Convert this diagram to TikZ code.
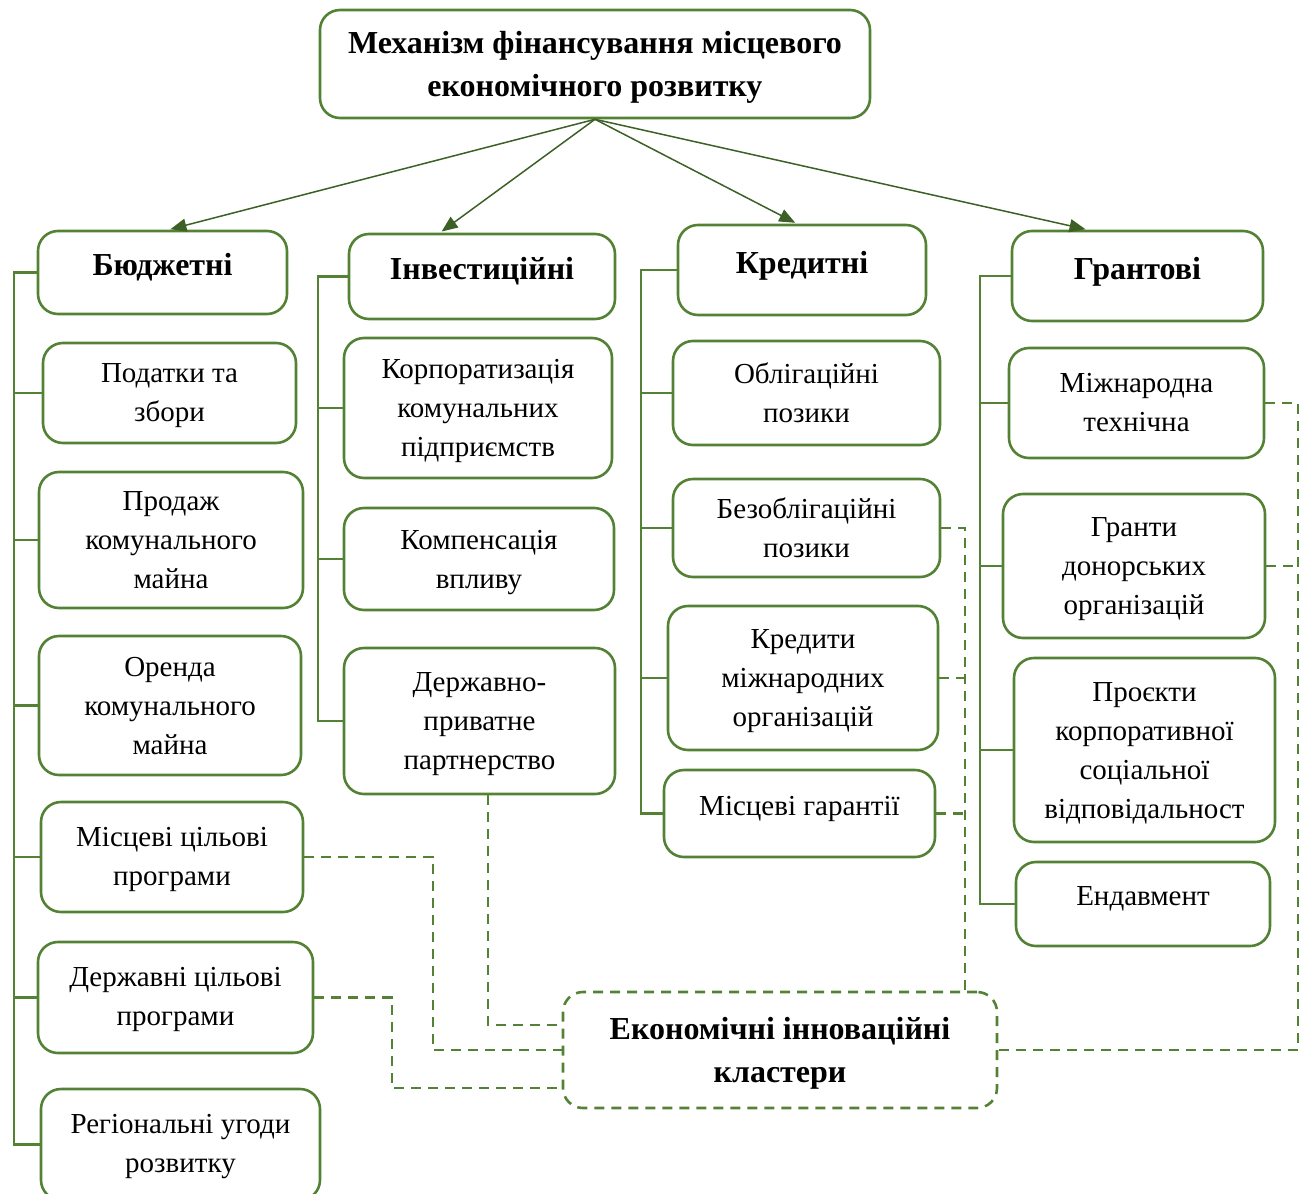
\documentclass[tikz,border=0pt]{standalone}
\usepackage{fontspec}
\setmainfont{Liberation Serif}
\usetikzlibrary{arrows.meta}
\definecolor{boxgreen}{RGB}{84,130,53}
\definecolor{arrgreen}{RGB}{60,96,38}

\begin{document}
\begin{tikzpicture}[x=1pt, y=-1pt,
        box/.style={draw=boxgreen, line width=2.6pt, rounded corners=20pt, align=center, inner sep=4pt, font=\fontsize{29}{39}\selectfont},
        multi/.style={box, text depth=#1},
        multi/.default=-8pt,
        single/.style={box, text depth=16pt},
        head/.style={single, font=\fontsize{32}{43}\selectfont\bfseries},
        title/.style={multi=#1, font=\fontsize{32}{43}\selectfont\bfseries},
        branch/.style={draw=boxgreen, line width=2.6pt},
        dlink/.style={draw=boxgreen, line width=2.6pt, dash pattern=on 10pt off 7pt},
        arr/.style={draw=arrgreen, line width=1.5pt, shorten >=2pt, -{Triangle[length=16pt, width=13pt]}}]
        \useasboundingbox (0,0) rectangle (1310,1194);

        \node[title=-7pt, minimum width=550pt, minimum height=108pt] (mech) at (595,64) {Механізм фінансування місцевого\\економічного розвитку};

        \node[head, minimum width=249pt, minimum height=83pt] (bud) at (162.5,272.5) {Бюджетні};
        \node[multi=-8pt, minimum width=253pt, minimum height=100pt] (bud1) at (169.5,393) {Податки та\\збори};
        \node[multi=-14pt, minimum width=264pt, minimum height=136pt] (bud2) at (171,540) {Продаж\\комунального\\майна};
        \node[multi=-12pt, minimum width=262pt, minimum height=139pt] (bud3) at (170,705.5) {Оренда\\комунального\\майна};
        \node[multi=2pt, minimum width=262pt, minimum height=110pt] (bud4) at (172,857) {Місцеві цільові\\програми};
        \node[multi=2pt, minimum width=275pt, minimum height=111pt] (bud5) at (175.5,997.5) {Державні цільові\\програми};
        \node[multi=2pt, minimum width=279pt, minimum height=111pt] (bud6) at (180.5,1144.5) {Регіональні угоди\\розвитку};

        \node[head, minimum width=266pt, minimum height=85pt] (inv) at (482,276.5) {Інвестиційні};
        \node[multi=-9pt, minimum width=268pt, minimum height=140pt] (inv1) at (478,408) {Корпоратизація\\комунальних\\підприємств};
        \node[multi=-6pt, minimum width=270pt, minimum height=102pt] (inv2) at (479,559) {Компенсація\\впливу};
        \node[multi=-9pt, minimum width=271pt, minimum height=146pt] (inv3) at (479.5,721) {Державно-\\приватне\\партнерство};

        \node[head, minimum width=248pt, minimum height=90pt] (kr) at (802,270) {Кредитні};
        \node[multi=-2pt, minimum width=267pt, minimum height=104pt] (kr1) at (806.5,393) {Облігаційні\\позики};
        \node[multi=-8pt, minimum width=267pt, minimum height=98pt] (kr2) at (806.5,528) {Безоблігаційні\\позики};
        \node[multi=-6pt, minimum width=270pt, minimum height=144pt] (kr3) at (803,678) {Кредити\\міжнародних\\організацій};
        \node[single, minimum width=271pt, minimum height=87pt] (kr4) at (799.5,813.5) {Місцеві гарантії};

        \node[head, minimum width=251pt, minimum height=90pt] (gr) at (1137.5,276) {Грантові};
        \node[box, minimum width=255pt, minimum height=110pt] (gr1) at (1136.5,403) {Міжнародна\\технічна};
        \node[multi=-6pt, minimum width=262pt, minimum height=144pt] (gr2) at (1134,566) {Гранти\\донорських\\організацій};
        \node[multi=-8pt, minimum width=261pt, minimum height=184pt] (gr3) at (1144.5,750) {Проєкти\\корпоративної\\соціальної\\відповідальност};
        \node[single, minimum width=254pt, minimum height=84pt] (gr4) at (1143,904) {Ендавмент};

        \node[title=0pt, dash pattern=on 10pt off 7pt, minimum width=434pt, minimum height=116pt] (cl) at (780,1050) {Економічні інноваційні\\кластери};

        \draw[arr] (mech.south) -- ([xshift=6pt]bud.north);
        \draw[arr] (mech.south) -- ([xshift=-42pt]inv.north);
        \draw[arr] (mech.south) -- ([xshift=-5pt]kr.north);
        \draw[arr] (mech.south) -- ([xshift=-50pt]gr.north);

        \coordinate (tb) at (14,0);
        \coordinate (ti) at (318,0);
        \coordinate (tk) at (641,0);
        \coordinate (tg) at (980,0);
        \draw[branch] (bud.west) -- (bud.west -| tb) -- (bud6.west -| tb) -- (bud6.west);
        \foreach \n in {bud1,bud2,bud3,bud4,bud5}
            \draw[branch] (\n.west -| tb) -- (\n.west);
        \draw[branch] (inv.west) -- (inv.west -| ti) -- (inv3.west -| ti) -- (inv3.west);
        \foreach \n in {inv1,inv2}
            \draw[branch] (\n.west -| ti) -- (\n.west);
        \draw[branch] (kr.west) -- (kr.west -| tk) -- (kr4.west -| tk) -- (kr4.west);
        \foreach \n in {kr1,kr2,kr3}
            \draw[branch] (\n.west -| tk) -- (\n.west);
        \draw[branch] (gr.west) -- (gr.west -| tg) -- (gr4.west -| tg) -- (gr4.west);
        \foreach \n in {gr1,gr2,gr3}
            \draw[branch] (\n.west -| tg) -- (\n.west);

        \coordinate (d1) at (433,0);
        \coordinate (d2) at (392,0);
        \coordinate (d3) at (965,0);
        \coordinate (d4) at (1298,0);
        \coordinate (cltop) at ([yshift=25pt]cl.west);
        \coordinate (cllow) at ([yshift=-38pt]cl.west);
        \draw[dlink] ([xshift=8.5pt]inv3.south) |- (cltop);
        \draw[dlink] (bud4.east) -| (d1 |- cl.west) -- (cl.west);
        \draw[dlink] (bud5.east) -| (d2 |- cllow) -- (cllow);
        \draw[dlink] (kr2.east) -| (d3 |- cl.north);
        \draw[dlink] (kr3.east) -- (kr3.east -| d3);
        \draw[dlink] (kr4.east) -- (kr4.east -| d3);
        \draw[dlink] (gr1.east) -| (d4 |- cl.east) -- (cl.east);
        \draw[dlink] (gr2.east) -- (gr2.east -| d4);
    \end{tikzpicture}
\end{document}
